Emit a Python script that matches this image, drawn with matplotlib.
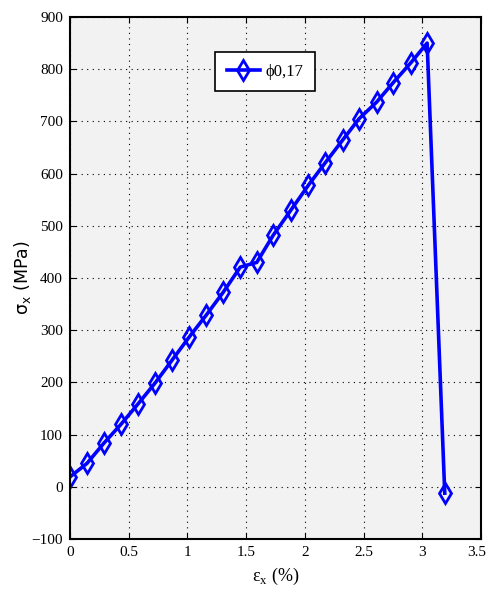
import matplotlib
matplotlib.use("Agg")
import matplotlib.pyplot as plt
from matplotlib.transforms import ScaledTranslation

# strain (%) and stress (MPa)
eps_x = [0.0, 0.145, 0.29, 0.435, 0.58, 0.725, 0.87, 1.015, 1.16, 1.305, 1.45,
         1.59, 1.73, 1.88, 2.03, 2.17, 2.32, 2.46, 2.61, 2.75, 2.90, 3.04, 3.19]
sigma_x = [19, 45, 84, 120, 159, 199, 243, 287, 329, 373, 421,
           430, 482, 530, 578, 620, 664, 705, 737, 774, 812, 850, -12]
series_label = "\u03d50,17"

x_ticks = [0, 0.5, 1, 1.5, 2, 2.5, 3, 3.5]
x_tick_labels = ["0", "0.5", "1", "1.5", "2", "2.5", "3", "3.5"]
y_ticks = [-100, 0, 100, 200, 300, 400, 500, 600, 700, 800, 900]

SERIF = "Liberation Serif"

fig = plt.figure(figsize=(4.89, 5.97), dpi=100)
ax = fig.add_axes([0.143, 0.097, 0.841, 0.8745])
ax.set_facecolor("#f2f2f2")

ax.plot(eps_x, sigma_x, color="#0000ff", lw=2.6, marker="d", ms=10,
        mfc="none", mec="#0000ff", mew=2, label=series_label)

ax.set_xlim(0, 3.5)
ax.set_ylim(-100, 900)
ax.set_xticks(x_ticks)
ax.set_xticklabels(x_tick_labels)
ax.set_yticks(y_ticks)
ax.tick_params(direction="in", top=True, right=True, length=4, width=0.8,
               labelsize=11, pad=5)
for lab in ax.get_xticklabels() + ax.get_yticklabels():
    lab.set_family(SERIF)
# last x label sits on the figure edge, nudge it in a bit
last = ax.get_xticklabels()[-1]
last.set_transform(last.get_transform() +
                   ScaledTranslation(-3 / 72, 0, fig.dpi_scale_trans))

ax.grid(True, linestyle=(0, (1, 4)), color="black", lw=0.8)
for sp in ax.spines.values():
    sp.set_linewidth(1.5)

ax.set_xlabel("\u03b5$_\\mathregular{x}$ (%)", family=SERIF, fontsize=13, labelpad=5)
ax.set_ylabel("\u03c3$_\\mathregular{x}$ (MPa)", family="DejaVu Sans", fontsize=12.5,
              labelpad=-1)

leg = ax.legend(loc="upper left", bbox_to_anchor=(0.353, 0.933), borderaxespad=0,
                fancybox=False, edgecolor="black", framealpha=1, facecolor="white",
                prop={"family": SERIF, "size": 12}, handlelength=2.0,
                handletextpad=0.3, borderpad=0.7)
leg.get_frame().set_linewidth(1.2)

fig.savefig("out.png", dpi=100)
